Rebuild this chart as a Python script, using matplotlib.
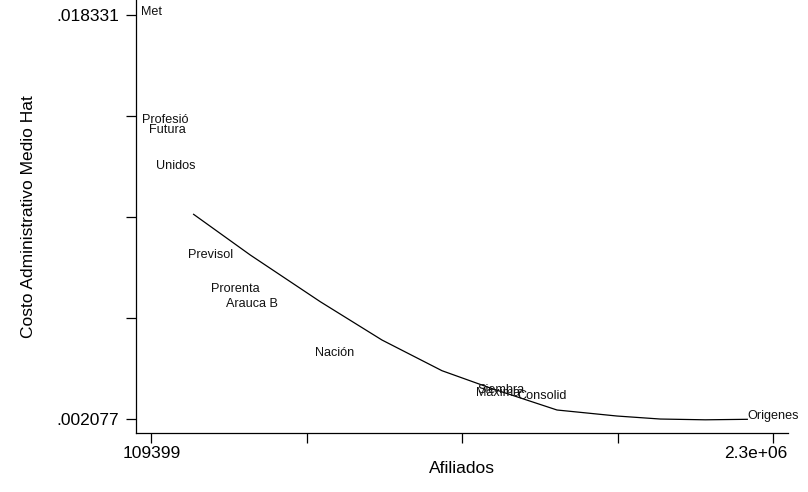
import matplotlib
matplotlib.use("Agg")
import matplotlib.pyplot as plt
from matplotlib.transforms import ScaledTranslation

plt.rcParams['font.family'] = ['Liberation Sans', 'DejaVu Sans']

# AFJP labels and their positions
names = ["Met", "Profesió", "Futura", "Unidos", "Previsol", "Prorenta",
         "Arauca B", "Nación", "Siembra", "Máxima", "Consolid", "Origenes"]
afiliados = [109399, 159762, 167510, 194629, 318248, 406295,
             462646, 756724, 1340303, 1331498, 1486462, 2300000]
costo = [0.018331, 0.013980, 0.013578, 0.012132, 0.008557, 0.007179,
         0.006588, 0.004608, 0.003133, 0.003013, 0.002892, 0.002077]

# fitted line
fit_x = [258375, 458067, 704600, 921900, 1133223, 1303323, 1538234,
         1749548, 1902046, 2060532, 2208452]
fit_y = [0.010312, 0.008677, 0.006801, 0.005262, 0.004029, 0.003334,
         0.002451, 0.002209, 0.002088, 0.002057, 0.002077]

xmin, xmax = 109399, 2300000
ymin, ymax = 0.002077, 0.018331
xticks = [xmin + k * (xmax - xmin) / 4 for k in range(5)]
xticklabels = ["109399", "", "", "", "2.3e+06"]
yticks = [ymin + k * (ymax - ymin) / 4 for k in range(5)]
yticklabels = [".002077", "", "", "", ".018331"]

fig = plt.figure(figsize=(8.08, 4.92), dpi=100)
ax = fig.add_axes([136 / 808, 1 - 433.3 / 492, 652 / 808, 433.3 / 492])

ax.plot(fit_x, fit_y, color='black', lw=0.9)
for n, x, y in zip(names, afiliados, costo):
    ax.text(x, y, n, ha='center', va='baseline', fontsize=9.1, color='#111111')

ax.set_xlim(55514, 2351772)
ax.set_ylim(0.001515, 0.018922)
ax.set_xticks(xticks)
ax.set_xticklabels(xticklabels)
ax.set_yticks(yticks)
ax.set_yticklabels(yticklabels)

for s in ['top', 'right']:
    ax.spines[s].set_visible(False)
for s in ['left', 'bottom']:
    ax.spines[s].set_linewidth(0.9)
ax.tick_params(axis='x', length=7.2, width=0.9, pad=2, labelsize=12.5)
ax.tick_params(axis='y', length=7.2, width=0.9, pad=5, labelsize=12.5)

# shift last x tick label left like the reference
lbls = ax.get_xticklabels()
lbls[-1].set_transform(lbls[-1].get_transform() + ScaledTranslation(-17.6 / 100, 0, fig.dpi_scale_trans))

ax.set_xlabel("Afiliados", fontsize=12.5)
ax.set_ylabel("Costo Administrativo Medio Hat", fontsize=12.5)
ax.xaxis.set_label_coords(0.5, -0.0801)
ax.xaxis.label.set_va('center')
ax.yaxis.set_label_coords(-107 / 652, 0.5)
ax.yaxis.label.set_va('center')

fig.savefig("out.png", dpi=100)
